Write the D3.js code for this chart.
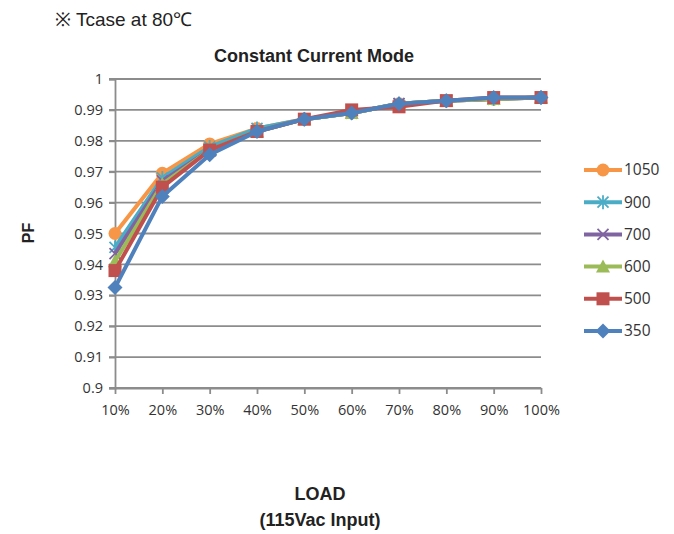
<!DOCTYPE html>
<html>
<head>
<meta charset="utf-8">
<script src="https://cdn.jsdelivr.net/npm/d3@7"></script>
<style>
  body { margin: 0; background: #fff; }
  svg { display: block; }
</style>
</head>
<body>
<svg width="674" height="534"></svg>
<script>
  // Chart data.
  const loads = ["10%", "20%", "30%", "40%", "50%", "60%", "70%", "80%", "90%", "100%"];
  const yTicks = [0.9, 0.91, 0.92, 0.93, 0.94, 0.95, 0.96, 0.97, 0.98, 0.99, 1];
  const currents = ["1050", "900", "700", "600", "500", "350"];
  const pf1050 = [0.950, 0.9695, 0.979, 0.984, 0.987, 0.989, 0.992, 0.993, 0.9935, 0.994];
  const pf900  = [0.9455, 0.968, 0.978, 0.984, 0.987, 0.989, 0.992, 0.993, 0.9935, 0.994];
  const pf700  = [0.9435, 0.967, 0.977, 0.983, 0.987, 0.989, 0.992, 0.993, 0.9935, 0.994];
  const pf600  = [0.941, 0.966, 0.977, 0.983, 0.987, 0.989, 0.992, 0.993, 0.9935, 0.994];
  const pf500  = [0.938, 0.965, 0.977, 0.983, 0.987, 0.990, 0.991, 0.993, 0.994, 0.994];
  const pf350  = [0.9325, 0.962, 0.9755, 0.983, 0.987, 0.989, 0.992, 0.993, 0.994, 0.994];

  const series = [
    { name: "1050", values: pf1050, color: "#F79646", marker: "circle" },
    { name: "900",  values: pf900,  color: "#4BACC6", marker: "star" },
    { name: "700",  values: pf700,  color: "#8064A2", marker: "x" },
    { name: "600",  values: pf600,  color: "#9BBB59", marker: "triangle" },
    { name: "500",  values: pf500,  color: "#C0504D", marker: "square" },
    { name: "350",  values: pf350,  color: "#4F81BD", marker: "diamond" }
  ];

  const svg = d3.select("svg");
  const plotLeft = 115, plotRight = 541, plotTop = 79, plotBottom = 388;

  const x = d3.scalePoint().domain(loads).range([plotLeft, plotRight]);
  const y = d3.scaleLinear().domain([0.9, 1]).range([plotBottom, plotTop]);

  const grid = "#8c8c8c";
  const labelFont = "'Open Sans', 'Noto Sans', sans-serif";
  const headFont = "'Liberation Sans Narrow', 'Liberation Sans', Arial, sans-serif";

  // Gridlines
  svg.append("g")
    .selectAll("line")
    .data(yTicks)
    .join("line")
      .attr("x1", plotLeft - 6)
      .attr("x2", plotRight)
      .attr("y1", d => y(d))
      .attr("y2", d => y(d))
      .attr("stroke", grid)
      .attr("stroke-width", 1.8);

  // Y axis
  const yAxis = svg.append("g")
      .attr("transform", `translate(${plotLeft},0)`)
      .call(d3.axisLeft(y).tickValues(yTicks).tickSize(6).tickPadding(6)
        .tickFormat(d => String(+d.toFixed(2))));
  yAxis.select(".domain").attr("stroke", grid).attr("stroke-width", 1.8);
  yAxis.selectAll(".tick line").attr("stroke", grid).attr("stroke-width", 1.8);
  yAxis.selectAll("text")
      .attr("fill", "#333")
      .style("font", `14.5px ${labelFont}`);

  // X axis
  const xAxis = svg.append("g")
      .attr("transform", `translate(0,${plotBottom})`)
      .call(d3.axisBottom(x).tickSize(6).tickSizeOuter(0).tickPadding(11));
  xAxis.select(".domain").attr("stroke", grid).attr("stroke-width", 1.8);
  xAxis.selectAll(".tick line").attr("stroke", grid).attr("stroke-width", 1.8);
  xAxis.selectAll("text")
      .attr("fill", "#333")
      .style("font", `14.5px ${labelFont}`);

  // Marker drawing
  function drawMarker(g, type, color) {
    if (type === "circle") {
      g.append("circle").attr("r", 6.5).attr("fill", color);
    } else if (type === "square") {
      g.append("rect").attr("x", -6.5).attr("y", -6.5).attr("width", 13).attr("height", 13).attr("fill", color);
    } else if (type === "diamond") {
      g.append("path").attr("d", "M0,-7.5L7.5,0L0,7.5L-7.5,0Z").attr("fill", color);
    } else if (type === "triangle") {
      g.append("path").attr("d", "M0,-7L7,6L-7,6Z").attr("fill", color);
    } else if (type === "x") {
      g.append("path").attr("d", "M-5.5,-5.5L5.5,5.5M-5.5,5.5L5.5,-5.5")
        .attr("stroke", color).attr("stroke-width", 1.8);
    } else if (type === "star") {
      g.append("path").attr("d", "M-5.5,-5.5L5.5,5.5M-5.5,5.5L5.5,-5.5M0,-7L0,7")
        .attr("stroke", color).attr("stroke-width", 1.8);
    }
  }

  const line = d3.line()
      .x((d, i) => x(loads[i]))
      .y(d => y(d));

  // Series
  const plot = svg.append("g");
  series.forEach(s => {
    const g = plot.append("g");
    g.append("path")
        .datum(s.values)
        .attr("d", line)
        .attr("fill", "none")
        .attr("stroke", s.color)
        .attr("stroke-width", 4)
        .attr("stroke-linejoin", "round");
    s.values.forEach((v, i) => {
      const m = g.append("g").attr("transform", `translate(${x(loads[i])},${y(v)})`);
      drawMarker(m, s.marker, s.color);
    });
  });

  // Legend
  const legend = svg.append("g");
  currents.forEach((c, i) => {
    const s = series.find(d => d.name === c);
    const ly = 170 + i * 32.2;
    const item = legend.append("g").attr("transform", `translate(0,${ly})`);
    item.append("line")
        .attr("x1", 584).attr("x2", 622)
        .attr("stroke", s.color).attr("stroke-width", 4);
    const m = item.append("g").attr("transform", "translate(603,0)");
    drawMarker(m, s.marker, s.color);
    item.append("text")
        .attr("x", 624).attr("y", 0).attr("dy", "0.35em")
        .attr("fill", "#333")
        .style("font", `15.5px ${labelFont}`)
        .text(c);
  });

  // Titles
  svg.append("text")
      .attr("x", 55).attr("y", 26)
      .attr("fill", "#222")
      .style("font", `19px ${headFont}`)
      .text("※ Tcase at 80℃");

  svg.append("text")
      .attr("x", 314).attr("y", 62)
      .attr("text-anchor", "middle")
      .attr("fill", "#222")
      .style("font", `bold 18px ${headFont}`)
      .text("Constant Current Mode");

  svg.append("text")
      .attr("transform", "translate(34,233) rotate(-90)")
      .attr("text-anchor", "middle")
      .attr("fill", "#222")
      .style("font", `bold 16px ${headFont}`)
      .text("PF");

  svg.append("text")
      .attr("x", 320).attr("y", 500)
      .attr("text-anchor", "middle")
      .attr("fill", "#222")
      .style("font", `bold 18px ${headFont}`)
      .text("LOAD");

  svg.append("text")
      .attr("x", 320).attr("y", 526)
      .attr("text-anchor", "middle")
      .attr("fill", "#222")
      .style("font", `bold 18px ${headFont}`)
      .text("(115Vac Input)");
</script>
</body>
</html>
